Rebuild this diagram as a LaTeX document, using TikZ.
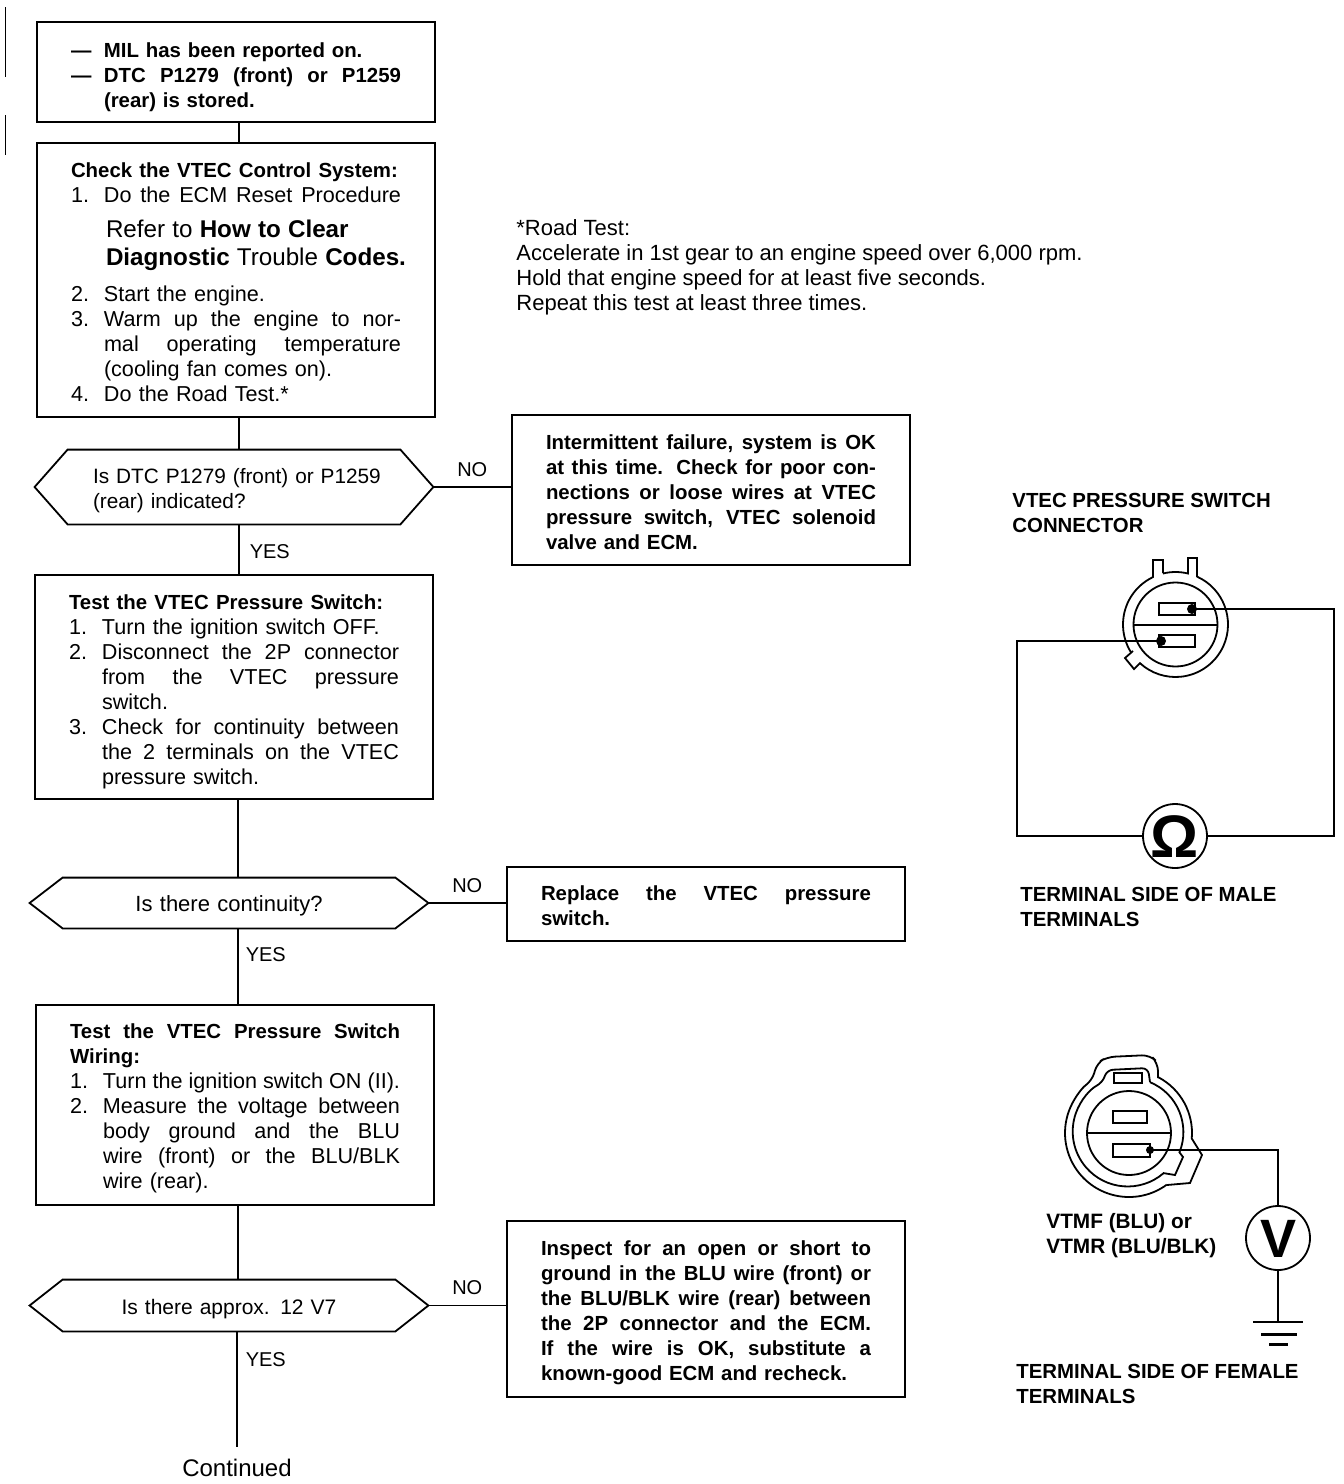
\documentclass[tikz,border=0pt]{standalone}
\usepackage{fontspec}
\setmainfont{Liberation Sans}
\usepackage{tikz}
\usetikzlibrary{positioning}

\newcommand{\rfont}{\fontsize{10.8}{12.5}\selectfont}
\newcommand{\bfont}{\fontsize{10.2}{12.5}\selectfont\bfseries}
\newcommand{\push}[1]{\rule{0pt}{#1}}
\newcommand{\fullline}[1]{\makebox[165pt][s]{\spaceskip=0pt\xspaceskip=0pt #1}}
\newcommand{\numline}[2]{\makebox[16.5pt][l]{#1}#2}
\newcommand{\numfull}[2]{\makebox[16.5pt][l]{#1}\makebox[148.5pt][s]{\spaceskip=0pt\xspaceskip=0pt #2}}
\newcommand{\contline}[1]{\hspace*{16.5pt}#1}
\newcommand{\contfull}[1]{\hspace*{16.5pt}\makebox[148.5pt][s]{\spaceskip=0pt\xspaceskip=0pt #1}}
\newcommand{\askoutline}[1]{\draw[part] (#1.west) -- ([xshift=16.5pt]#1.north west) -- ([xshift=-16.5pt]#1.north east) -- (#1.east) -- ([xshift=-16.5pt]#1.south east) -- ([xshift=16.5pt]#1.south west) -- cycle;}

\tikzset{
    stepbox/.style={draw, line width=0.9pt, rectangle, inner xsep=17pt, inner ysep=0pt, text width=165pt, align=left, font=\rfont},
    askbox/.style={rectangle, minimum width=199pt, text width=199pt, inner sep=0pt, align=left, font=\rfont},
    plain/.style={inner sep=0pt, align=left, font=\rfont},
    title/.style={plain, font=\bfont},
    meter/.style={draw, line width=0.9pt, circle, inner sep=0pt, minimum size=32pt, font=\fontsize{30}{30}\selectfont\bfseries},
    wire/.style={line width=0.8pt},
    part/.style={line width=0.9pt},
    lbl/.style={font=\fontsize{10}{12}\selectfont, inner sep=5pt}
}

\begin{document}
\begin{tikzpicture}[x=0.5pt,y=-0.5pt,auto]
    \useasboundingbox (0,0) rectangle (1344,1484);
    % flowchart
    \coordinate (sp1) at (239,0);
    \coordinate (sp2) at (238,0);
    \coordinate (sp3) at (237,0);
    \node[stepbox, minimum height=50pt, font=\bfont] (start) at (236,72) {
        \push{12.5pt}\numline{---}{MIL has been reported on.}\\
        \numfull{---}{DTC P1279 (front) or P1259}\\
        \contline{(rear) is stored.}};
    \node[stepbox, minimum height=137pt] (check) at (236,280) {
        \push{10pt}{\bfont Check the VTEC Control System:}\\
        \numfull{1.}{Do the ECM Reset Procedure}\\[5pt]
        \hspace*{17.5pt}\mbox{\fontsize{12.1}{14}\selectfont Refer to \textbf{How to Clear}}\\[1.5pt]
        \hspace*{17.5pt}\mbox{\fontsize{12.1}{14}\selectfont\textbf{Diagnostic} Trouble \textbf{Codes.}}\\[5.5pt]
        \numline{2.}{Start the engine.}\\
        \numfull{3.}{Warm up the engine to nor-}\\
        \contfull{mal operating temperature}\\
        \contline{(cooling fan comes on).}\\
        \numline{4.}{Do the Road Test.*}};
    \node[askbox, minimum height=37pt, font=\fontsize{10.4}{12.5}\selectfont] (ask1) at (234,487) {\push{11.5pt}\hspace*{29pt}Is DTC P1279 (front) or P1259\\\hspace*{29pt}(rear) indicated?};
    \node[stepbox, minimum height=75pt, font=\bfont] (intermit) at (711,490) {
        \push{10pt}\fullline{Intermittent failure, system is OK}\\
        \fullline{at this time. Check for poor con-}\\
        \fullline{nections or loose wires at VTEC}\\
        \fullline{pressure switch, VTEC solenoid}\\
        valve and ECM.};
    \node[stepbox, minimum height=112pt] (switch) at (234,687) {
        \push{12.5pt}{\bfont Test the VTEC Pressure Switch:}\\
        \numline{1.}{Turn the ignition switch OFF.}\\
        \numfull{2.}{Disconnect the 2P connector}\\
        \contfull{from the VTEC pressure}\\
        \contline{switch.}\\
        \numfull{3.}{Check for continuity between}\\
        \contfull{the 2 terminals on the VTEC}\\
        \contline{pressure switch.}};
    \node[askbox, minimum height=25pt, font=\fontsize{11}{12.5}\selectfont] (ask2) at (229,903) {\push{11pt}\makebox[199pt][c]{Is there continuity?}};
    \node[stepbox, minimum height=37pt, font=\bfont] (replace) at (706,904) {
        \push{9.5pt}\fullline{Replace the VTEC pressure}\\
        switch.};
    \node[stepbox, minimum height=100pt] (wiring) at (235,1105) {
        \push{11pt}\fullline{\bfont Test the VTEC Pressure Switch}\\
        {\bfont Wiring:}\\
        \numline{1.}{\makebox[148.5pt][s]{\spaceskip=0pt\xspaceskip=0pt Turn the ignition switch ON (II).}}\\
        \numfull{2.}{Measure the voltage between}\\
        \contfull{body ground and the BLU}\\
        \contfull{wire (front) or the BLU/BLK}\\
        \contline{wire (rear).}};
    \node[askbox, minimum height=25.5pt, font=\fontsize{10.5}{12.5}\selectfont] (ask3) at (229,1305.5) {\push{11pt}\makebox[199pt][c]{Is there approx. 12 V7}};
    \node[stepbox, minimum height=88pt, font=\bfont] (inspect) at (706,1309) {
        \push{11pt}\fullline{Inspect for an open or short to}\\
        \fullline{ground in the BLU wire (front) or}\\
        \fullline{the BLU/BLK wire (rear) between}\\
        \fullline{the 2P connector and the ECM.}\\
        \fullline{If the wire is OK, substitute a}\\
        known-good ECM and recheck.};
    \node[plain, inner ysep=6pt, anchor=north, font=\fontsize{12}{14}\selectfont] (cont) at (237,1447) {Continued};
    \askoutline{ask1}
    \askoutline{ask2}
    \askoutline{ask3}
    \path[wire] (start.south -| sp1)  edge                          (check.north -| sp1);
    \path[wire] (check.south -| sp1)  edge                          (ask1.north -| sp1);
    \path[wire] (ask1.east)           edge node[lbl] {NO}           (ask1.east -| intermit.west);
    \path[wire] (ask1.south -| sp1)   edge node[lbl, pos=.55] {YES} (switch.north -| sp1);
    \path[wire] (switch.south -| sp2) edge                          (ask2.north -| sp2);
    \path[wire] (ask2.east)           edge node[lbl] {NO}           (ask2.east -| replace.west);
    \path[wire] (ask2.south -| sp2)   edge node[lbl, pos=.35, xshift=-1.5pt] {YES} (wiring.north -| sp2);
    \path[wire] (wiring.south -| sp2) edge                          (ask3.north -| sp2);
    \path[wire] (ask3.east)           edge node[lbl] {NO}           (ask3.east -| inspect.west);
    \path[wire] (ask3.south -| sp3)   edge node[lbl, pos=.24, xshift=-1pt] {YES} (cont.north -| sp3);
    % road test note
    \node[plain, anchor=north west, font=\fontsize{11}{12.5}\selectfont] (note) at (516,219) {*Road Test:\\Accelerate in 1st gear to an engine speed over 6,000 rpm.\\Hold that engine speed for at least five seconds.\\Repeat this test at least three times.};
    % male connector
    \node[title, anchor=north west] (maletop) at (1012,493) {VTEC PRESSURE SWITCH\\CONNECTOR};
    \coordinate (mc) at (1175.5,624.5);
    \draw[part] (mc) circle (42);
    \draw[part] (mc) ++(-65.8:52.5) arc (-65.8:132.6:52.5) -- (1134,669) -- (1125,658) -- (1133,651);
    \draw[part] (mc) ++(148:52.5) arc (148:244.6:52.5) -- (1153,560) -- (1163,560) -- (1163,573);
    \draw[part] (mc) ++(-103.8:52.5) arc (-103.8:-76.2:52.5) -- (1188,558) -- (1197,558) -- (1197,577);
    \draw[part] (1134,625) -- (1218,625);
    \draw[part] (1159,603) rectangle (1195,615);
    \draw[part] (1159,635) rectangle (1195,647);
    \fill (1192,609) circle (5);
    \fill (1161,641) circle (5);
    \node[meter] (ohm) at (1175,836) {\raisebox{-.36em}[0pt][0pt]{\makebox[0pt]{Ω}}};
    \draw[wire] (1192,609) -- (1334,609) |- (ohm.east);
    \draw[wire] (1161,641) -- (1017,641) |- (ohm.west);
    \node[title, anchor=north west] (malelow) at (1020,887) {TERMINAL SIDE OF MALE\\TERMINALS};
    % female connector
    \coordinate (fc) at (1129,1133);
    \draw[part] (fc) circle (42);
    \draw[part] (fc) ++(-62:63) arc (-62:5:63) -- (1202,1155) -- (1190,1183) -- (1167,1185);
    \draw[part, rounded corners=4] (fc) ++(53.8:64) arc (53.8:234.8:64) -- (1097,1063) -- (1107,1057) -- (1150,1055) -- (1158,1063) -- (1158,1078);
    \draw[part, rounded corners=3] (fc) ++(49.6:53) arc (49.6:242.5:55) -- (1107,1070) -- (1148,1068) -- (1150,1082);
    \draw[part] (fc) ++(-67.6:55) arc (-67.6:22:54) -- (1183,1157) -- (1175,1175) -- (1163,1173);
    \draw[part] (1114,1073) rectangle (1142,1083);
    \draw[part] (1087,1133) -- (1171,1133);
    \draw[part] (1113,1111) rectangle (1147,1123);
    \draw[part] (1113,1144) rectangle (1150,1157);
    \fill (1150,1150) circle (4);
    \node[meter, font=\fontsize{27}{27}\selectfont\bfseries] (volt) at (1278,1238) {\raisebox{-.36em}[0pt][0pt]{\makebox[0pt]{V}}};
    \coordinate (gnd) at (1278,1322);
    \draw[wire] (1150,1150) -| (volt.north);
    \draw[wire] (volt.south) -- (gnd);
    \draw[line width=1.2pt] (gnd) ++(-25,0) -- ++(50,0);
    \draw[line width=1.5pt] (gnd) ++(-17,12) -- ++(36,0);
    \draw[line width=1.5pt] (gnd) ++(-9,22) -- ++(19,0);
    \node[title, anchor=north west, font=\fontsize{10.4}{12.5}\selectfont\bfseries] (pinlbl)  at (1046,1213) {VTMF (BLU) or\\VTMR (BLU/BLK)};
    \node[title, anchor=north west] (femlow)  at (1016,1364) {TERMINAL SIDE OF FEMALE\\TERMINALS};
    % margin marks
    \draw[line width=0.4pt] (5,7) -- (5,77) (5,115) -- (5,155);
\end{tikzpicture}
\end{document}
